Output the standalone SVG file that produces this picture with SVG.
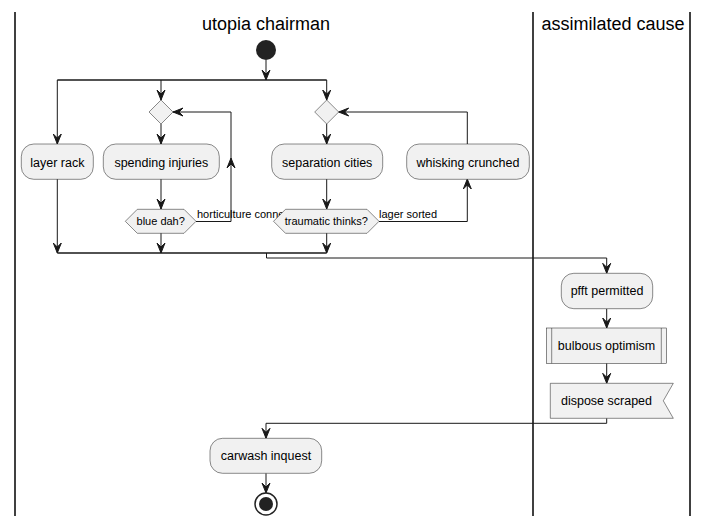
<svg xmlns="http://www.w3.org/2000/svg" xmlns:xlink="http://www.w3.org/1999/xlink" width="708" height="526" viewBox="0 0 708 526">
<style>
.lane{stroke:#000;stroke-width:1.5;fill:none}
.title{font-family:"Liberation Sans",Arial,sans-serif;font-size:18px;fill:#000;text-anchor:middle}
.box{fill:#F1F1F1;stroke:#181818;stroke-width:0.5}
.t{font-family:"Liberation Sans",Arial,sans-serif;font-size:12.5px;fill:#000;text-anchor:middle}
.ts{font-family:"Liberation Sans",Arial,sans-serif;font-size:11px;fill:#000;text-anchor:middle}
.lbl{font-family:"Liberation Sans",Arial,sans-serif;font-size:11px;fill:#000}
.ln{stroke:#181818;stroke-width:1;fill:none}
.bar{stroke:#181818;stroke-width:1.5;fill:none}
.ah{fill:#181818;stroke:#181818;stroke-width:1}
</style>
<defs>
<path id="ah" class="ah" d="M0,0 L-4,-10 L0,-6 L4,-10 Z"/>
</defs>
<g id="lanes">
<line class="lane" x1="15" y1="12" x2="15" y2="516"/>
<line class="lane" x1="533" y1="12" x2="533" y2="516"/>
<line class="lane" x1="690" y1="12" x2="690" y2="516"/>
<text class="title" x="266" y="30">utopia chairman</text>
<text class="title" x="613" y="30">assimilated cause</text>
</g>
<g id="connectors">
<line class="ln" x1="266" y1="60" x2="266" y2="80"/>
<line class="bar" x1="57.3" y1="80" x2="326.7" y2="80"/>
<line class="ln" x1="57.3" y1="80" x2="57.3" y2="144"/>
<line class="ln" x1="161" y1="80" x2="161" y2="100"/>
<line class="ln" x1="326.7" y1="80" x2="326.7" y2="100"/>
<line class="ln" x1="161" y1="124" x2="161" y2="144"/>
<line class="ln" x1="326.7" y1="124" x2="326.7" y2="144"/>
<line class="ln" x1="161" y1="179" x2="161" y2="209"/>
<line class="ln" x1="326.7" y1="179" x2="326.7" y2="209"/>
<polyline class="ln" points="196,221.5 231,221.5 231,112 173,112"/>
<polyline class="ln" points="379,221.5 467.3,221.5 467.3,179"/>
<polyline class="ln" points="467.3,144 467.3,112 338.7,112"/>
<line class="ln" x1="57.3" y1="179" x2="57.3" y2="253"/>
<line class="ln" x1="161" y1="233" x2="161" y2="253"/>
<line class="ln" x1="326.7" y1="233" x2="326.7" y2="253"/>
<line class="bar" x1="57.3" y1="253" x2="326.7" y2="253"/>
<polyline class="ln" points="266.5,253 266.5,258 606.7,258 606.7,273.3"/>
<line class="ln" x1="606.7" y1="308.7" x2="606.7" y2="328"/>
<line class="ln" x1="606.7" y1="363.3" x2="606.7" y2="383.3"/>
<polyline class="ln" points="606.7,418.3 606.7,423.3 266,423.3 266,438.3"/>
<line class="ln" x1="266" y1="473.3" x2="266" y2="493"/>
<use xlink:href="#ah" transform="translate(266,80)"/>
<use xlink:href="#ah" transform="translate(57.3,144)"/>
<use xlink:href="#ah" transform="translate(161,100)"/>
<use xlink:href="#ah" transform="translate(326.7,100)"/>
<use xlink:href="#ah" transform="translate(161,144)"/>
<use xlink:href="#ah" transform="translate(326.7,144)"/>
<use xlink:href="#ah" transform="translate(161,209)"/>
<use xlink:href="#ah" transform="translate(326.7,209)"/>
<use xlink:href="#ah" transform="translate(173,112) rotate(90)"/>
<use xlink:href="#ah" transform="translate(231,158) rotate(180)"/>
<use xlink:href="#ah" transform="translate(338.7,112) rotate(90)"/>
<use xlink:href="#ah" transform="translate(467.3,179) rotate(180)"/>
<use xlink:href="#ah" transform="translate(57.3,253)"/>
<use xlink:href="#ah" transform="translate(161,253)"/>
<use xlink:href="#ah" transform="translate(326.7,253)"/>
<use xlink:href="#ah" transform="translate(606.7,273.3)"/>
<use xlink:href="#ah" transform="translate(606.7,328)"/>
<use xlink:href="#ah" transform="translate(606.7,383.3)"/>
<use xlink:href="#ah" transform="translate(266,438.3)"/>
<use xlink:href="#ah" transform="translate(266,493)"/>
<text class="lbl" x="197" y="218">horticulture conne</text>
<text class="lbl" x="379" y="218">lager sorted</text>
</g>
<g id="start"><circle cx="266" cy="50" r="10" fill="#222"/></g>
<g id="merge1"><polygon class="box" points="161,100 173,112 161,124 149,112"/></g>
<g id="merge2"><polygon class="box" points="326.7,100 338.7,112 326.7,124 314.7,112"/></g>
<g id="layer-rack"><rect class="box" x="21.3" y="144" width="72" height="35.3" rx="12.5"/><text class="t" x="57.3" y="166.5">layer rack</text></g>
<g id="spending-injuries"><rect class="box" x="103.3" y="144" width="116" height="35.3" rx="12.5"/><text class="t" x="161.3" y="166.5">spending injuries</text></g>
<g id="separation-cities"><rect class="box" x="271.7" y="144" width="111" height="35.3" rx="12.5"/><text class="t" x="327.2" y="166.5">separation cities</text></g>
<g id="whisking-crunched"><rect class="box" x="406.7" y="144" width="122.6" height="35.3" rx="12.5"/><text class="t" x="468" y="166.5">whisking crunched</text></g>
<g id="blue-dah"><polygon class="box" points="125.3,221.3 137.3,209.3 184,209.3 196,221.3 184,233.3 137.3,233.3"/><text class="ts" x="160.7" y="225.3">blue dah?</text></g>
<g id="traumatic-thinks"><polygon class="box" points="273.5,221.3 285.5,209.3 367,209.3 379,221.3 367,233.3 285.5,233.3"/><text class="ts" x="326.3" y="225.3">traumatic thinks?</text></g>
<g id="pfft-permitted"><rect class="box" x="561.3" y="273.3" width="91.4" height="35.4" rx="12.5"/><text class="t" x="607" y="295.3">pfft permitted</text></g>
<g id="bulbous-optimism"><rect class="box" x="546.3" y="328" width="120.4" height="35.3"/><line class="box" x1="551.7" y1="328" x2="551.7" y2="363.3"/><line class="box" x1="661.3" y1="328" x2="661.3" y2="363.3"/><text class="t" x="606.5" y="350">bulbous optimism</text></g>
<g id="dispose-scraped"><polygon class="box" points="550.3,383.3 673.3,383.3 663.3,400.8 673.3,418.3 550.3,418.3"/><text class="t" x="606.5" y="405.3">dispose scraped</text></g>
<g id="carwash-inquest"><rect class="box" x="210" y="438.3" width="111.7" height="35" rx="12.5"/><text class="t" x="266" y="460.3">carwash inquest</text></g>
<g id="end"><circle cx="266" cy="504" r="11" fill="none" stroke="#222" stroke-width="1.5"/><circle cx="266" cy="504" r="7" fill="#222"/></g>
</svg>
